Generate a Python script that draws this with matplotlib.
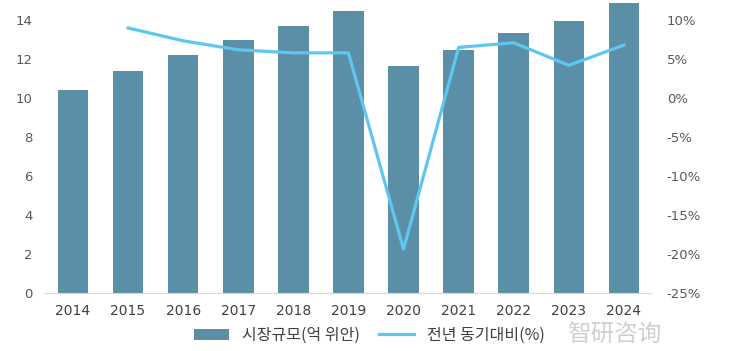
import matplotlib.pyplot as plt
import numpy as np

plt.rcParams['font.family'] = ['Noto Sans CJK KR', 'DejaVu Sans']

years = ['2014', '2015', '2016', '2017', '2018', '2019', '2020', '2021', '2022', '2023', '2024']
market_size = [10.43, 11.37, 12.21, 12.99, 13.72, 14.48, 11.67, 12.45, 13.35, 13.95, 14.89]
yoy_years = ['2015', '2016', '2017', '2018', '2019', '2020', '2021', '2022', '2023', '2024']
yoy = [9.0, 7.35, 6.2, 5.8, 5.8, -19.4, 6.5, 7.1, 4.2, 6.8]

bar_color = '#5b8fa8'
line_color = '#5fc6ef'

fig = plt.figure(figsize=(7.32, 3.51), dpi=100)
ax = fig.add_axes([0.062, 0.166, 0.828, 0.832])

x = np.arange(len(years))
bars = ax.bar(x, market_size, width=0.555, color=bar_color, label='시장규모(억 위안)', zorder=2)
ax.set_xlim(-0.5, len(years) - 0.5)
ax.set_ylim(0, 15)
ax.set_yticks(range(0, 15, 2))
ax.set_xticks(x)
ax.set_xticklabels(years)

ax2 = ax.twinx()
xl = [years.index(y) for y in yoy_years]
line, = ax2.plot(xl, yoy, color=line_color, linewidth=2.3, label='전년 동기대비(%)', zorder=3)
ax2.set_ylim(-25, 12.5)
ax2.set_yticks(range(-25, 11, 5))
ax2.set_yticklabels([f'{v}%' for v in range(-25, 11, 5)])

for a in (ax, ax2):
    for s in a.spines.values():
        s.set_visible(False)
ax.spines['bottom'].set_visible(True)
ax.spines['bottom'].set_color('#d9d9d9')

ax.tick_params(axis='y', length=0, labelsize=9.5, labelcolor='#595959', pad=9)
ax.tick_params(axis='x', length=0, labelsize=10, labelcolor='#404040', pad=8)
ax2.tick_params(axis='y', length=0, labelsize=9.5, labelcolor='#595959', pad=11)
for lbl in ax.get_yticklabels() + ax2.get_yticklabels() + ax.get_xticklabels():
    lbl.set_family(['DejaVu Sans'])

# watermark
fig.text(0.775, 0.045, '智研咨询', family=['Noto Sans CJK SC'], fontsize=17,
         color='#d0d0d0', va='center', ha='left', zorder=0)

fig.legend([bars, line], ['시장규모(억 위안)', '전년 동기대비(%)'],
           loc='center', bbox_to_anchor=(0.505, 0.045), ncol=2, frameon=False,
           fontsize=11.5, handlelength=2.2, columnspacing=1.2, handletextpad=0.8,
           labelcolor='#404040')

fig.savefig('out.png', dpi=100)
